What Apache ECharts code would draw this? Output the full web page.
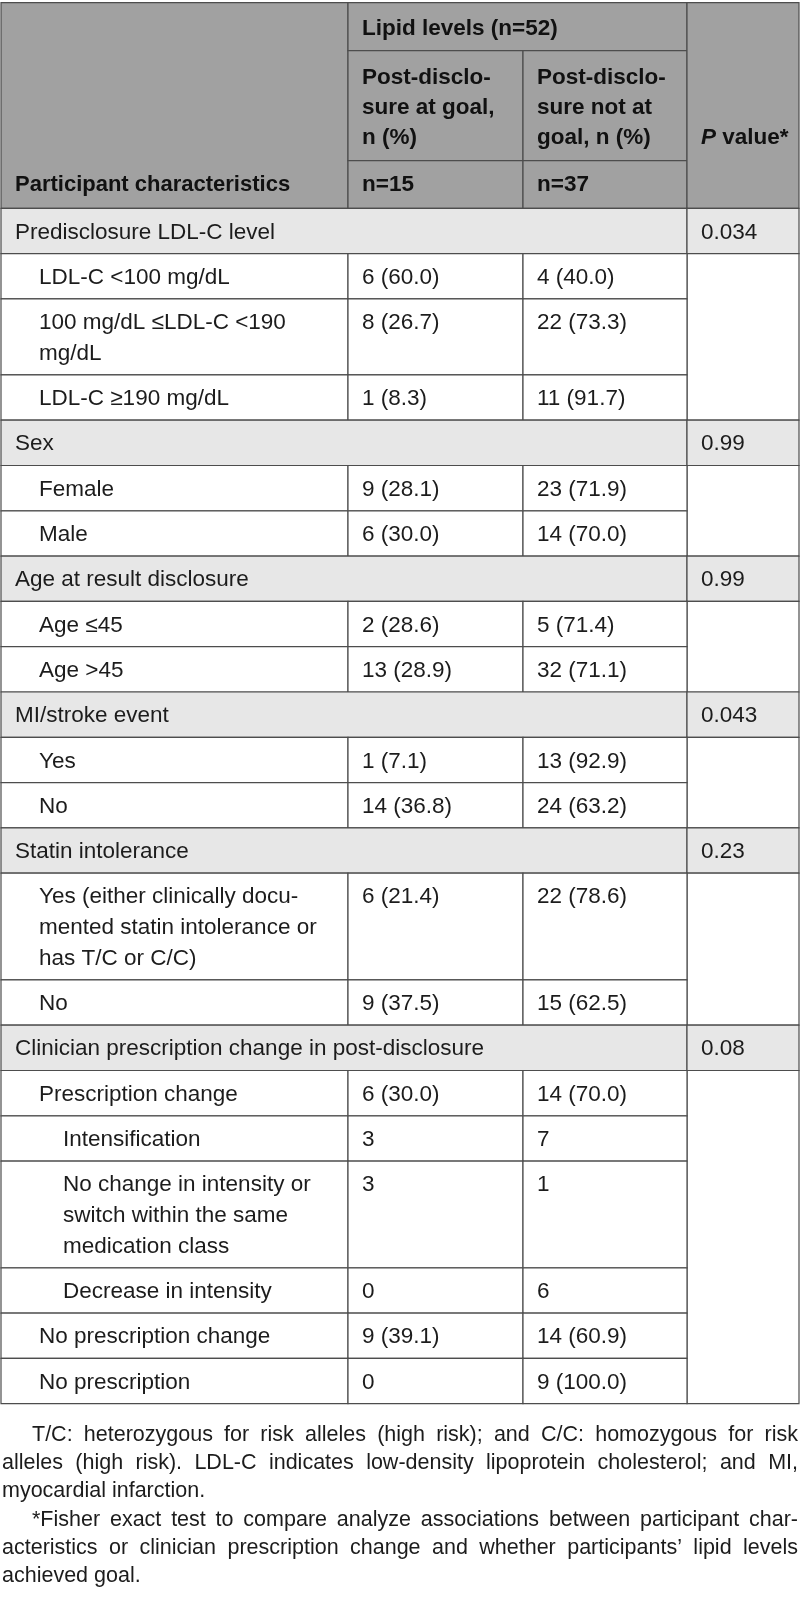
<!DOCTYPE html>
<html><head><meta charset="utf-8">
<script src="https://cdn.jsdelivr.net/npm/echarts@6/dist/echarts.min.js"></script>
<style>html,body{margin:0;padding:0;background:#fff}#c{width:800px;height:1607px}</style>
</head><body><div id="c"></div>
<script>
// ---------- DATA ----------
const headerGroup = 'Lipid levels (n=52)';
const headerCols = ['Participant characteristics', 'Post-disclo-\nsure at goal,\nn (%)', 'Post-disclo-\nsure not at\ngoal, n (%)'];
const headerN = ['n=15', 'n=37'];
const rowLabels = [
  'Predisclosure LDL-C level',
  'LDL-C <100 mg/dL',
  '100 mg/dL \u2264LDL-C <190\nmg/dL',
  'LDL-C \u2265190 mg/dL',
  'Sex',
  'Female',
  'Male',
  'Age at result disclosure',
  'Age \u226445',
  'Age >45',
  'MI/stroke event',
  'Yes',
  'No',
  'Statin intolerance',
  'Yes (either clinically docu-\nmented statin intolerance or\nhas T/C or C/C)',
  'No',
  'Clinician prescription change in post-disclosure',
  'Prescription change',
  'Intensification',
  'No change in intensity or\nswitch within the same\nmedication class',
  'Decrease in intensity',
  'No prescription change',
  'No prescription'
];
const rowLevel = [0,1,1,1,0,1,1,0,1,1,0,1,1,0,1,1,0,1,2,2,2,1,1];
const atGoal = ['', '6 (60.0)', '8 (26.7)', '1 (8.3)', '', '9 (28.1)', '6 (30.0)', '', '2 (28.6)', '13 (28.9)', '', '1 (7.1)', '14 (36.8)', '', '6 (21.4)', '9 (37.5)', '', '6 (30.0)', '3', '3', '0', '9 (39.1)', '0'];
const notAtGoal = ['', '4 (40.0)', '22 (73.3)', '11 (91.7)', '', '23 (71.9)', '14 (70.0)', '', '5 (71.4)', '32 (71.1)', '', '13 (92.9)', '24 (63.2)', '', '22 (78.6)', '15 (62.5)', '', '14 (70.0)', '7', '1', '6', '14 (60.9)', '9 (100.0)'];
const pValues = ['0.034', '', '', '', '0.99', '', '', '0.99', '', '', '0.043', '', '', '0.23', '', '', '0.08', '', '', '', '', '', ''];
const footLines = [
  'T/C: heterozygous for risk alleles (high risk); and C/C: homozygous for risk',
  'alleles (high risk). LDL-C indicates low-density lipoprotein cholesterol; and MI,',
  'myocardial infarction.',
  '*Fisher exact test to compare analyze associations between participant char-',
  'acteristics or clinician prescription change and whether participants\u2019 lipid levels',
  'achieved goal.'
];
const footIndent = [1,0,0,1,0,0];
const footJustify = [1,1,0,1,1,0];

// ---------- LAYOUT ----------
const FONT = '"Liberation Sans", Arial, sans-serif';
const FS = 22.5;
const colX = [1, 348, 523, 687, 799];
const pad = 14;
const headTop = 2.7, headR1 = 50.7, headR2 = 160.7, headBot = 208.3;
const rowUnit = 45.3, lineExtra = 30.7, LH = 31;
const headFill = '#a1a1a1', secFill = '#e7e7e7', lineCol = '#4d4d4d', txtCol = '#1c1c1c';
const indentX = [15, 39, 63];

const bg = [], txt = [];
function cell(x0, y0, x1, y1, fill) {
  bg.push({type:'rect', shape:{x:x0, y:y0, width:x1-x0, height:y1-y0},
    style:{fill:fill, stroke:lineCol, lineWidth:1.2}, silent:true});
}
function text(x, y, s, opts) {
  txt.push({type:'text', x:x, y:y, silent:true,
    style:Object.assign({text:s, fontFamily:FONT, fontSize:FS, fill:txtCol,
      verticalAlign:'top', align:'left', lineHeight:LH}, opts||{})});
}

// header
cell(colX[0], headTop, colX[1], headBot, headFill);
cell(colX[1], headTop, colX[3], headR1, headFill);
cell(colX[1], headR1, colX[2], headR2, headFill);
cell(colX[2], headR1, colX[3], headR2, headFill);
cell(colX[1], headR2, colX[2], headBot, headFill);
cell(colX[2], headR2, colX[3], headBot, headFill);
cell(colX[3], headTop, colX[4], headBot, headFill);
const B = {fontWeight:'bold', fill:'#111'};
text(colX[1]+pad, 28.5-15.5, headerGroup, B);
text(colX[1]+pad, 78-15, headerCols[1], Object.assign({lineHeight:30}, B));
text(colX[2]+pad, 78-15, headerCols[2], Object.assign({lineHeight:30}, B));
text(colX[3]+pad, 138-15.5, '{i|P} value*', Object.assign({rich:{i:{fontStyle:'italic', fontWeight:'bold', fontFamily:FONT, fontSize:FS, fill:'#111'}}}, B));
text(colX[0]+pad, 185-15.5, headerCols[0], Object.assign({fontSize:22}, B));
text(colX[1]+pad, 185-15.5, headerN[0], B);
text(colX[2]+pad, 185-15.5, headerN[1], B);

// body
let y = headBot;
const tops = [], bots = [];
rowLabels.forEach((lab, i) => {
  const n = lab.split('\n').length;
  const h = rowUnit + lineExtra*(n-1);
  tops.push(y); bots.push(y+h);
  y += h;
});
rowLabels.forEach((lab, i) => {
  const t = tops[i], b = bots[i];
  const isSec = pValues[i] !== '';
  if (isSec) {
    cell(colX[0], t, colX[3], b, secFill);
    cell(colX[3], t, colX[4], b, secFill);
    text(colX[3]+pad, t+8.5, pValues[i]);
    let j = i+1;
    while (j < rowLabels.length && pValues[j] === '') j++;
    cell(colX[3], b, colX[4], bots[j-1], '#fff');
  } else {
    cell(colX[0], t, colX[1], b, '#fff');
    cell(colX[1], t, colX[2], b, '#fff');
    cell(colX[2], t, colX[3], b, '#fff');
    text(colX[1]+pad, t+8.5, atGoal[i]);
    text(colX[2]+pad, t+8.5, notAtGoal[i]);
  }
  text(indentX[rowLevel[i]], t+8.5, lab);
});

// footnotes (justified)
const FFS = 21.5;
const ctx = document.createElement('canvas').getContext('2d');
ctx.font = FFS + 'px ' + FONT;
const fLeft = 2, fRight = 798, fIndent = 30, fTop = 1434.7, fStep = 28.3;
footLines.forEach((ln, k) => {
  const cy = fTop + k*fStep;
  const x0 = fLeft + (footIndent[k] ? fIndent : 0);
  const words = ln.split(' ');
  const ws = words.map(w => ctx.measureText(w).width);
  const tot = ws.reduce((a,b)=>a+b,0);
  let gap = footJustify[k] ? (fRight - x0 - tot)/(words.length-1) : ctx.measureText(' ').width;
  let x = x0;
  words.forEach((w, wi) => {
    txt.push({type:'text', x:x, y:cy, silent:true,
      style:{text:w, fontFamily:FONT, fontSize:FFS, fill:txtCol, verticalAlign:'middle', align:'left'}});
    x += ws[wi] + gap;
  });
});

const chart = echarts.init(document.getElementById('c'), null, {renderer:'canvas'});
chart.setOption({animation:false, backgroundColor:'#fff', graphic:{elements: bg.concat(txt)}});
</script></body></html>
